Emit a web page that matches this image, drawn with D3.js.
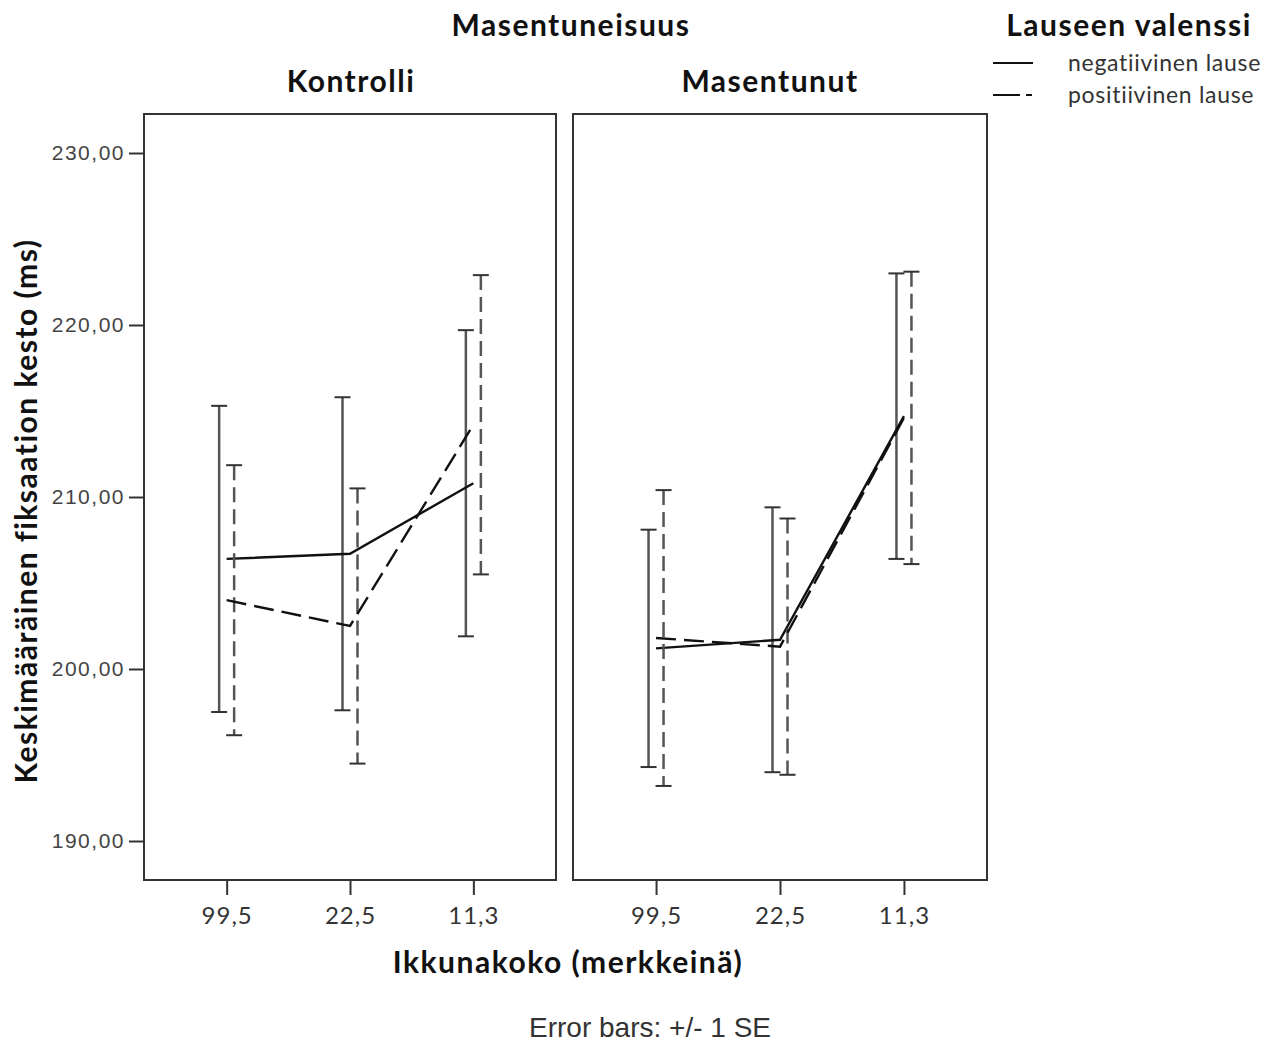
<!DOCTYPE html>
<html>
<head>
<meta charset="utf-8">
<script src="https://cdn.jsdelivr.net/npm/d3@7"></script>
<style>
  body { margin: 0; background: #fff; }
  svg { display: block; }
</style>
</head>
<body>
<svg id="chart" width="1280" height="1044"></svg>
<script>
// data
var windowSizes = ['99,5', '22,5', '11,3'];
var groups = ['Kontrolli', 'Masentunut'];
var valences = ['negatiivinen lause', 'positiivinen lause'];
var yTicks = [190, 200, 210, 220, 230];

var kontrolliNegMean = [206.4, 206.7, 210.8];
var kontrolliNegSE   = [8.9, 9.1, 8.9];
var kontrolliPosMean = [204.0, 202.5, 214.2];
var kontrolliPosSE   = [7.85, 8.0, 8.7];
var masentunutNegMean = [201.2, 201.7, 214.7];
var masentunutNegSE   = [6.9, 7.7, 8.3];
var masentunutPosMean = [201.8, 201.3, 214.6];
var masentunutPosSE   = [8.6, 7.45, 8.5];

var seriesByGroup = {
  'Kontrolli': [
    { valence: valences[0], mean: kontrolliNegMean, se: kontrolliNegSE },
    { valence: valences[1], mean: kontrolliPosMean, se: kontrolliPosSE }
  ],
  'Masentunut': [
    { valence: valences[0], mean: masentunutNegMean, se: masentunutNegSE },
    { valence: valences[1], mean: masentunutPosMean, se: masentunutPosSE }
  ]
};

var svg = d3.select('#chart');

// layout
var panelTop = 114, panelBottom = 880;
var panelLeft = [144, 573];
var panelWidth = [412, 414];
var titleX = [351, 770];
var dashLine = '15,7';
var barOffset = { 'negatiivinen lause': -7.5, 'positiivinen lause': 7.5 };
var boldFont = 'Lato, "Open Sans", sans-serif';

var yScale = d3.scaleLinear().domain([190, 230]).range([841, 153]);

// y axis
var yAxis = d3.axisLeft(yScale)
  .tickValues(yTicks)
  .tickSize(15)
  .tickPadding(4)
  .tickFormat(function(d){ return d3.format('.2f')(d).replace('.', ','); });

var gy = svg.append('g')
  .attr('transform', 'translate(' + panelLeft[0] + ',0)')
  .call(yAxis);
gy.select('.domain').remove();
gy.selectAll('.tick line').attr('stroke', '#333').attr('stroke-width', 2);
gy.selectAll('.tick text')
  .attr('fill', '#444')
  .style('font-family', 'Liberation Sans, Arial, sans-serif')
  .style('font-size', '21px')
  .style('letter-spacing', '1.5px');

groups.forEach(function(group, gi){
  var x0 = panelLeft[gi], w = panelWidth[gi];
  var xScale = d3.scalePoint().domain(windowSizes).range([0, w]).padding(0.67);

  var g = svg.append('g').attr('transform', 'translate(' + x0 + ',0)');

  // frame
  g.append('rect')
    .attr('x', 0).attr('y', panelTop)
    .attr('width', w).attr('height', panelBottom - panelTop)
    .attr('fill', 'none').attr('stroke', '#333').attr('stroke-width', 2);

  // x axis
  var gx = g.append('g')
    .attr('transform', 'translate(0,' + panelBottom + ')')
    .call(d3.axisBottom(xScale).tickSize(15).tickPadding(12));
  gx.select('.domain').remove();
  gx.selectAll('.tick line').attr('stroke', '#333').attr('stroke-width', 2);
  gx.selectAll('.tick text')
    .attr('fill', '#333')
    .style('font-family', boldFont)
    .style('font-size', '24px')
    .style('letter-spacing', '1px');

  // panel title
  svg.append('text')
    .attr('x', titleX[gi]).attr('y', 92)
    .attr('text-anchor', 'middle')
    .style('font-family', boldFont)
    .style('font-weight', 'bold')
    .style('font-size', '30px')
    .style('letter-spacing', '1.5px')
    .attr('fill', '#111')
    .text(group);

  var line = d3.line()
    .x(function(d){ return xScale(d.key); })
    .y(function(d){ return yScale(d.value); });

  seriesByGroup[group].forEach(function(s){
    var dashed = s.valence === valences[1];
    var pts = windowSizes.map(function(k, i){
      return { key: k, value: s.mean[i], se: s.se[i] };
    });

    // error bars
    var eb = g.append('g').selectAll('g').data(pts).enter().append('g')
      .attr('transform', function(d){ return 'translate(' + (xScale(d.key) + barOffset[s.valence]) + ',0)'; });
    eb.append('line')
      .attr('x1', 0).attr('x2', 0)
      .attr('y1', function(d){ return yScale(d.value + d.se); })
      .attr('y2', function(d){ return yScale(d.value - d.se); })
      .attr('stroke', '#555').attr('stroke-width', 2.5)
      .attr('stroke-dasharray', dashed ? dashLine : null);
    eb.selectAll('.cap').data(function(d){ return [d.value + d.se, d.value - d.se]; })
      .enter().append('line')
      .attr('class', 'cap')
      .attr('x1', -8).attr('x2', 8)
      .attr('y1', function(v){ return yScale(v); })
      .attr('y2', function(v){ return yScale(v); })
      .attr('stroke', '#333').attr('stroke-width', 2);

    // mean line
    g.append('path')
      .datum(pts)
      .attr('d', line)
      .attr('fill', 'none')
      .attr('stroke', '#111')
      .attr('stroke-width', 2.4)
      .attr('stroke-dasharray', dashed ? '20,8' : null);
  });
});

// titles
function boldText(x, y, txt){
  return svg.append('text')
    .attr('x', x).attr('y', y)
    .attr('text-anchor', 'middle')
    .style('font-family', boldFont).style('font-weight', 'bold').style('font-size', '30px')
    .style('letter-spacing', '1.5px')
    .attr('fill', '#111')
    .text(txt);
}
boldText(571, 36, 'Masentuneisuus');
boldText(568, 973, 'Ikkunakoko (merkkeinä)');
boldText(1129, 36, 'Lauseen valenssi');

svg.append('text')
  .attr('transform', 'translate(37,511) rotate(-90)')
  .attr('text-anchor', 'middle')
  .style('font-family', boldFont).style('font-weight', 'bold').style('font-size', '30px')
  .style('letter-spacing', '1.5px')
  .attr('fill', '#111')
  .text('Keskimääräinen fiksaation kesto (ms)');

svg.append('text')
  .attr('x', 650).attr('y', 1037)
  .attr('text-anchor', 'middle')
  .style('font-family', '"Liberation Sans", Arial, sans-serif')
  .style('font-size', '28px')
  .attr('fill', '#333')
  .text('Error bars: +/- 1 SE');

// legend
var legend = svg.append('g').selectAll('g').data(valences).enter().append('g')
  .attr('transform', function(d, i){ return 'translate(993,' + (63 + i * 32) + ')'; });
legend.append('line')
  .attr('x1', 0).attr('x2', 40).attr('y1', 0).attr('y2', 0)
  .attr('stroke', '#111').attr('stroke-width', 2)
  .attr('stroke-dasharray', function(d, i){ return i === 1 ? '27,6,6,20' : null; });
legend.append('text')
  .attr('x', 75).attr('y', 8)
  .style('font-family', boldFont).style('font-size', '23px')
  .style('letter-spacing', '0.7px')
  .attr('fill', '#333')
  .text(function(d){ return d; });
</script>
</body>
</html>
